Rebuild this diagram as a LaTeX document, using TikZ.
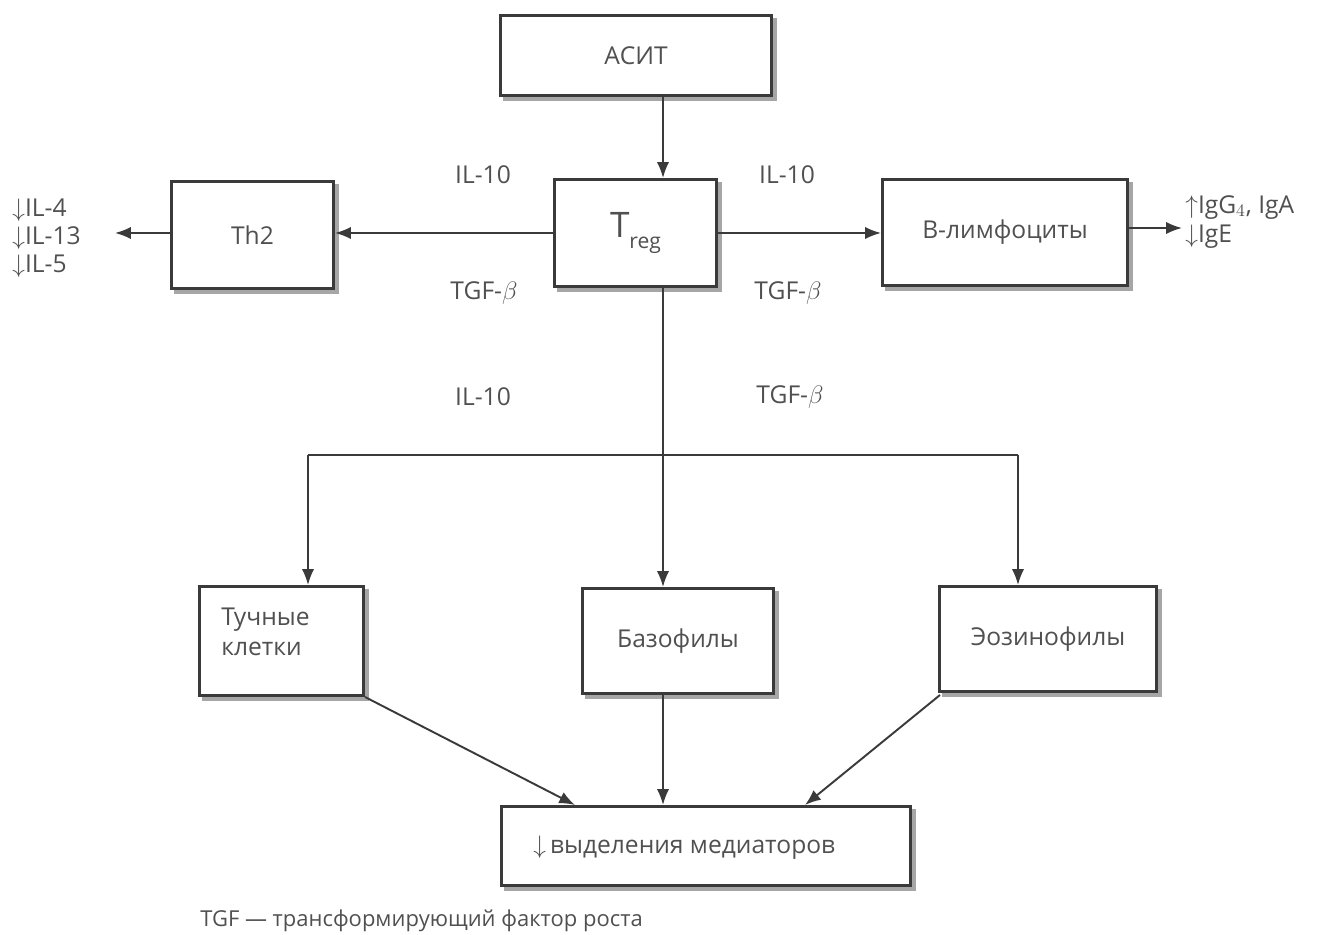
\documentclass[tikz,border=0pt]{standalone}
\usepackage{fontspec}
\setmainfont{Open Sans}
\usetikzlibrary{arrows.meta}
\definecolor{ink}{HTML}{3A3A3A}
\definecolor{txt}{HTML}{505050}
\begin{document}
\begin{tikzpicture}[x=0.02cm,y=-0.02cm,
  box/.style={draw=ink,line width=1.5pt,fill=white,inner sep=0pt,
    font=\fontsize{14}{17}\selectfont,text=txt},
  lbl/.style={font=\fontsize{14}{17}\selectfont,text=txt,inner sep=0pt},
  conn/.style={draw=ink,line width=1.1pt,-{Latex[length=9pt,width=7pt]}},
  plain/.style={draw=ink,line width=1.1pt}]
\useasboundingbox (0,0) rectangle (1320,935);
% boxes with a slight shadow on the lower right
\newcommand{\cellbox}[6]{%
  \fill[gray!70] (#2+4,#3+4) rectangle (#4+4,#5+4);
  \node[box,minimum width=(#4-#2)*0.02cm-1.5pt,minimum height=(#5-#3)*0.02cm-1.5pt,anchor=center] (#1) at ({(#2+#4)/2},{(#3+#5)/2}) {#6};}
\cellbox{asit}{499}{14}{773}{97}{АСИТ}
\cellbox{th}{170}{180}{335}{290}{Th2}
\cellbox{treg}{553}{178}{718}{288}{\fontsize{20}{22}\selectfont T\raisebox{-0.6ex}{\fontsize{12}{14}\selectfont reg}}
\cellbox{bl}{881}{178}{1129}{287}{B-лимфоциты}
\cellbox{mast}{198}{585}{365}{697}{}
\cellbox{baso}{581}{587}{775}{695}{Базофилы}
\cellbox{eos}{938}{585}{1158}{693}{Эозинофилы}
\cellbox{med}{500}{805}{912}{887}{}
\node[lbl,anchor=west,align=left] (mastt) at (221,632) {Тучные\\клетки};
\node[lbl,anchor=west] (medt) at (533,848) {$\downarrow$\,выделения медиаторов};
% guide coordinates for the connector lines
\coordinate (vx) at (663,0);
\coordinate (hy) at (0,233);
\coordinate (thout) at (115,233);
\coordinate (blout) at (1182,228);
\node[lbl,anchor=west,align=left] (thl) at (12,238) {$\downarrow$IL-4\\[-1pt]$\downarrow$IL-13\\[-1pt]$\downarrow$IL-5};
\node[lbl,anchor=west,align=left] (bll) at (1185,222) {$\uparrow$IgG$_4$, IgA\\$\downarrow$IgE};
% cytokine labels
\node[lbl] (l1) at (483,175) {IL-10};
\node[lbl] (l2) at (787,175) {IL-10};
\node[lbl] (l3) at (484,293) {TGF-$\beta$};
\node[lbl] (l4) at (788,293) {TGF-$\beta$};
\node[lbl] (l5) at (483,397) {IL-10};
\node[lbl] (l6) at (790,397) {TGF-$\beta$};
% connectors
\draw[conn] (asit.south -| vx) -- (treg.north -| vx);
\draw[conn] (treg.west |- hy) -- (th.east |- hy);
\draw[conn] (th.west |- hy) -- (thout);
\draw[conn] (treg.east |- hy) -- (bl.west |- hy);
\draw[conn] (bl.east |- blout) -- (blout);
\draw[conn] (treg.south -| vx) -- (baso.north -| vx);
\coordinate (hl) at (308,455);
\coordinate (hr) at (1018,455);
\draw[plain] (hl) -- (hr);
\draw[conn] (hl) -- (hl |- mast.north);
\draw[conn] (hr) -- (hr |- eos.north);
\draw[conn] (mast.south east) -- (575,805);
\draw[conn] (baso.south -| vx) -- (med.north -| vx);
\draw[conn] (940,695) -- (805,805);
% footnote
\node[lbl,anchor=west,font=\fontsize{12.5}{15}\selectfont] (fn) at (200,921) {TGF — трансформирующий фактор роста};
\end{tikzpicture}
\end{document}
